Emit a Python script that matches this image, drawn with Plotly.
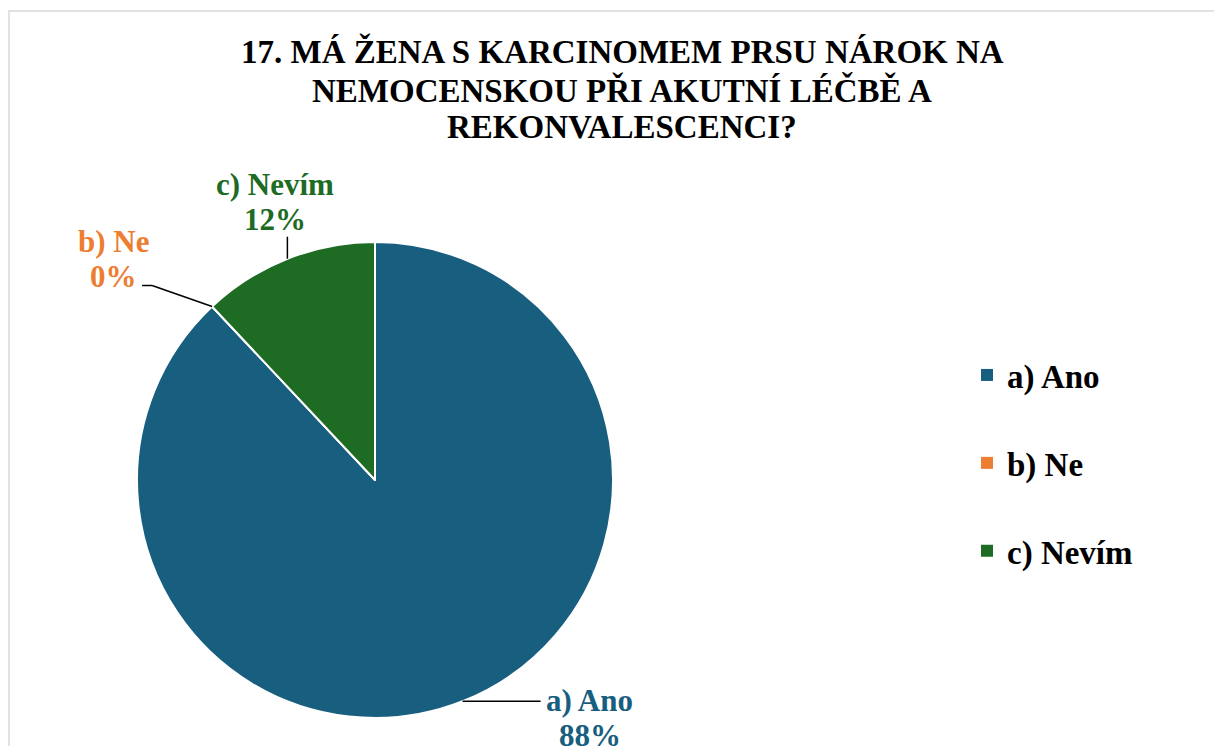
import math
import plotly.graph_objects as go

# ---- data ----
labels = ["a) Ano", "b) Ne", "c) Nevím"]
values = [88, 0, 12]
colors = ["#175E7F", "#ED7D31", "#1E6B24"]
title_lines = ["17. MÁ ŽENA S KARCINOMEM PRSU NÁROK NA",
               "NEMOCENSKOU PŘI AKUTNÍ LÉČBĚ A",
               "REKONVALESCENCI?"]

# page has an 8px body margin; work in screen pixels and convert
OFF = 8
W, H = 1214, 738
FONT = "Liberation Serif, Times New Roman, serif"

def px(x):
    return (x - OFF) / W

def py(y):
    return 1 - (y - OFF) / H

# pie placement (screen pixels)
cx, cy, R = 375, 480, 238

fig = go.Figure()
fig.add_trace(go.Pie(
    labels=labels, values=values, sort=False, direction="clockwise", rotation=0,
    marker=dict(colors=colors, line=dict(color="white", width=2)),
    textinfo="none", showlegend=False,
    domain=dict(x=[px(cx - R), px(cx + R)], y=[py(cy + R), py(cy - R)]),
))

# legend via dummy traces
for lab, col in zip(labels, colors):
    fig.add_trace(go.Scatter(
        x=[None], y=[None], mode="markers", name=lab, legendgroup=lab,
        marker=dict(symbol="square", size=12, color=col),
    ))

# leader line / label layout per slice: elbow points relative to edge point, first-line offset
label_layout = [
    dict(path=[(78, 0)], text=(127, -1)),
    dict(path=[(-60, -21), (-70, -21)], text=(-99, -65)),
    dict(path=[(0, -22)], text=(-12, -74)),
]
LINE_GAP = 35

total = sum(values)
cum = 0
shapes = []
annotations = []
for v, lab, col, lay in zip(values, labels, colors, label_layout):
    mid = (cum + v / 2) / total * 2 * math.pi
    cum += v
    ex = cx + R * math.sin(mid)
    ey = cy - R * math.cos(mid)
    pts = [(ex, ey)] + [(ex + dx, ey + dy) for dx, dy in lay["path"]]
    for (x0, y0), (x1, y1) in zip(pts[:-1], pts[1:]):
        shapes.append(dict(type="line", xref="paper", yref="paper",
                           x0=px(x0), y0=py(y0), x1=px(x1), y1=py(y1),
                           line=dict(color="black", width=1.5)))
    tx, ty = ex + lay["text"][0], ey + lay["text"][1]
    for k, txt in enumerate([lab, f"{round(v / total * 100)}%"]):
        annotations.append(dict(
            x=px(tx), y=py(ty + k * LINE_GAP), xref="paper", yref="paper",
            showarrow=False, text=txt, xanchor="center", yanchor="middle",
            font=dict(family=FONT, size=31, color=col, weight="bold"),
        ))

for line, yy in zip(title_lines, [52, 90, 127]):
    annotations.append(dict(
        x=px(622), y=py(yy), xref="paper", yref="paper", showarrow=False,
        text=line, xanchor="center", yanchor="middle",
        font=dict(family=FONT, size=33, color="black", weight="bold"),
    ))

# chart border
shapes.append(dict(type="rect", xref="paper", yref="paper",
                   x0=px(9), x1=1.02, y0=-0.02, y1=py(11),
                   line=dict(color="#D9D9D9", width=1.5)))

fig.update_layout(
    width=W, height=H,
    margin=dict(l=0, r=0, t=0, b=0),
    paper_bgcolor="white", plot_bgcolor="white",
    xaxis=dict(visible=False), yaxis=dict(visible=False),
    shapes=shapes, annotations=annotations,
    legend=dict(x=px(967), y=py(347), xanchor="left", yanchor="top",
                tracegroupgap=42, bgcolor="rgba(0,0,0,0)",
                font=dict(family=FONT, size=33, color="black", weight="bold")),
)

fig.write_html("out.html")
